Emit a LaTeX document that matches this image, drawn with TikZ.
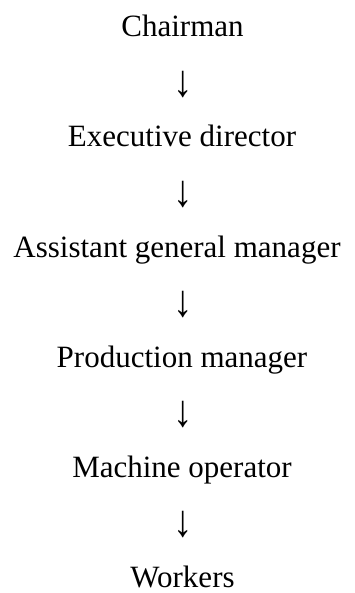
\documentclass[tikz,border=0pt]{standalone}
\usepackage{fontspec}
\setmainfont{Liberation Serif}
\begin{document}
\begin{tikzpicture}[x=1pt,y=1pt,
  lbl/.style={anchor=base,inner sep=0pt,font=\fontsize{31}{36}\selectfont},
  arr/.style={anchor=south,inner sep=0pt,font=\fontsize{31}{36}\selectfont}]
\useasboundingbox (0,0) rectangle (355,-593);
\node[lbl] (n1) at (182.5,-37) {Chairman};
\node[arr] (a1) at (183,-98) {\scalebox{1.25}[1.45]{↓}};
\node[lbl] (n2) at (182,-147) {Executive director};
\node[arr] (a2) at (183,-208) {\scalebox{1.25}[1.45]{↓}};
\node[lbl] (n3) at (177,-257) {Assistant general manager};
\node[arr] (a3) at (183,-318) {\scalebox{1.25}[1.45]{↓}};
\node[lbl] (n4) at (182,-367) {Production manager};
\node[arr] (a4) at (183,-428) {\scalebox{1.25}[1.45]{↓}};
\node[lbl] (n5) at (182,-477) {Machine operator};
\node[arr] (a5) at (183,-538) {\scalebox{1.25}[1.45]{↓}};
\node[lbl] (n6) at (182.5,-587) {Workers};
\end{tikzpicture}
\end{document}
